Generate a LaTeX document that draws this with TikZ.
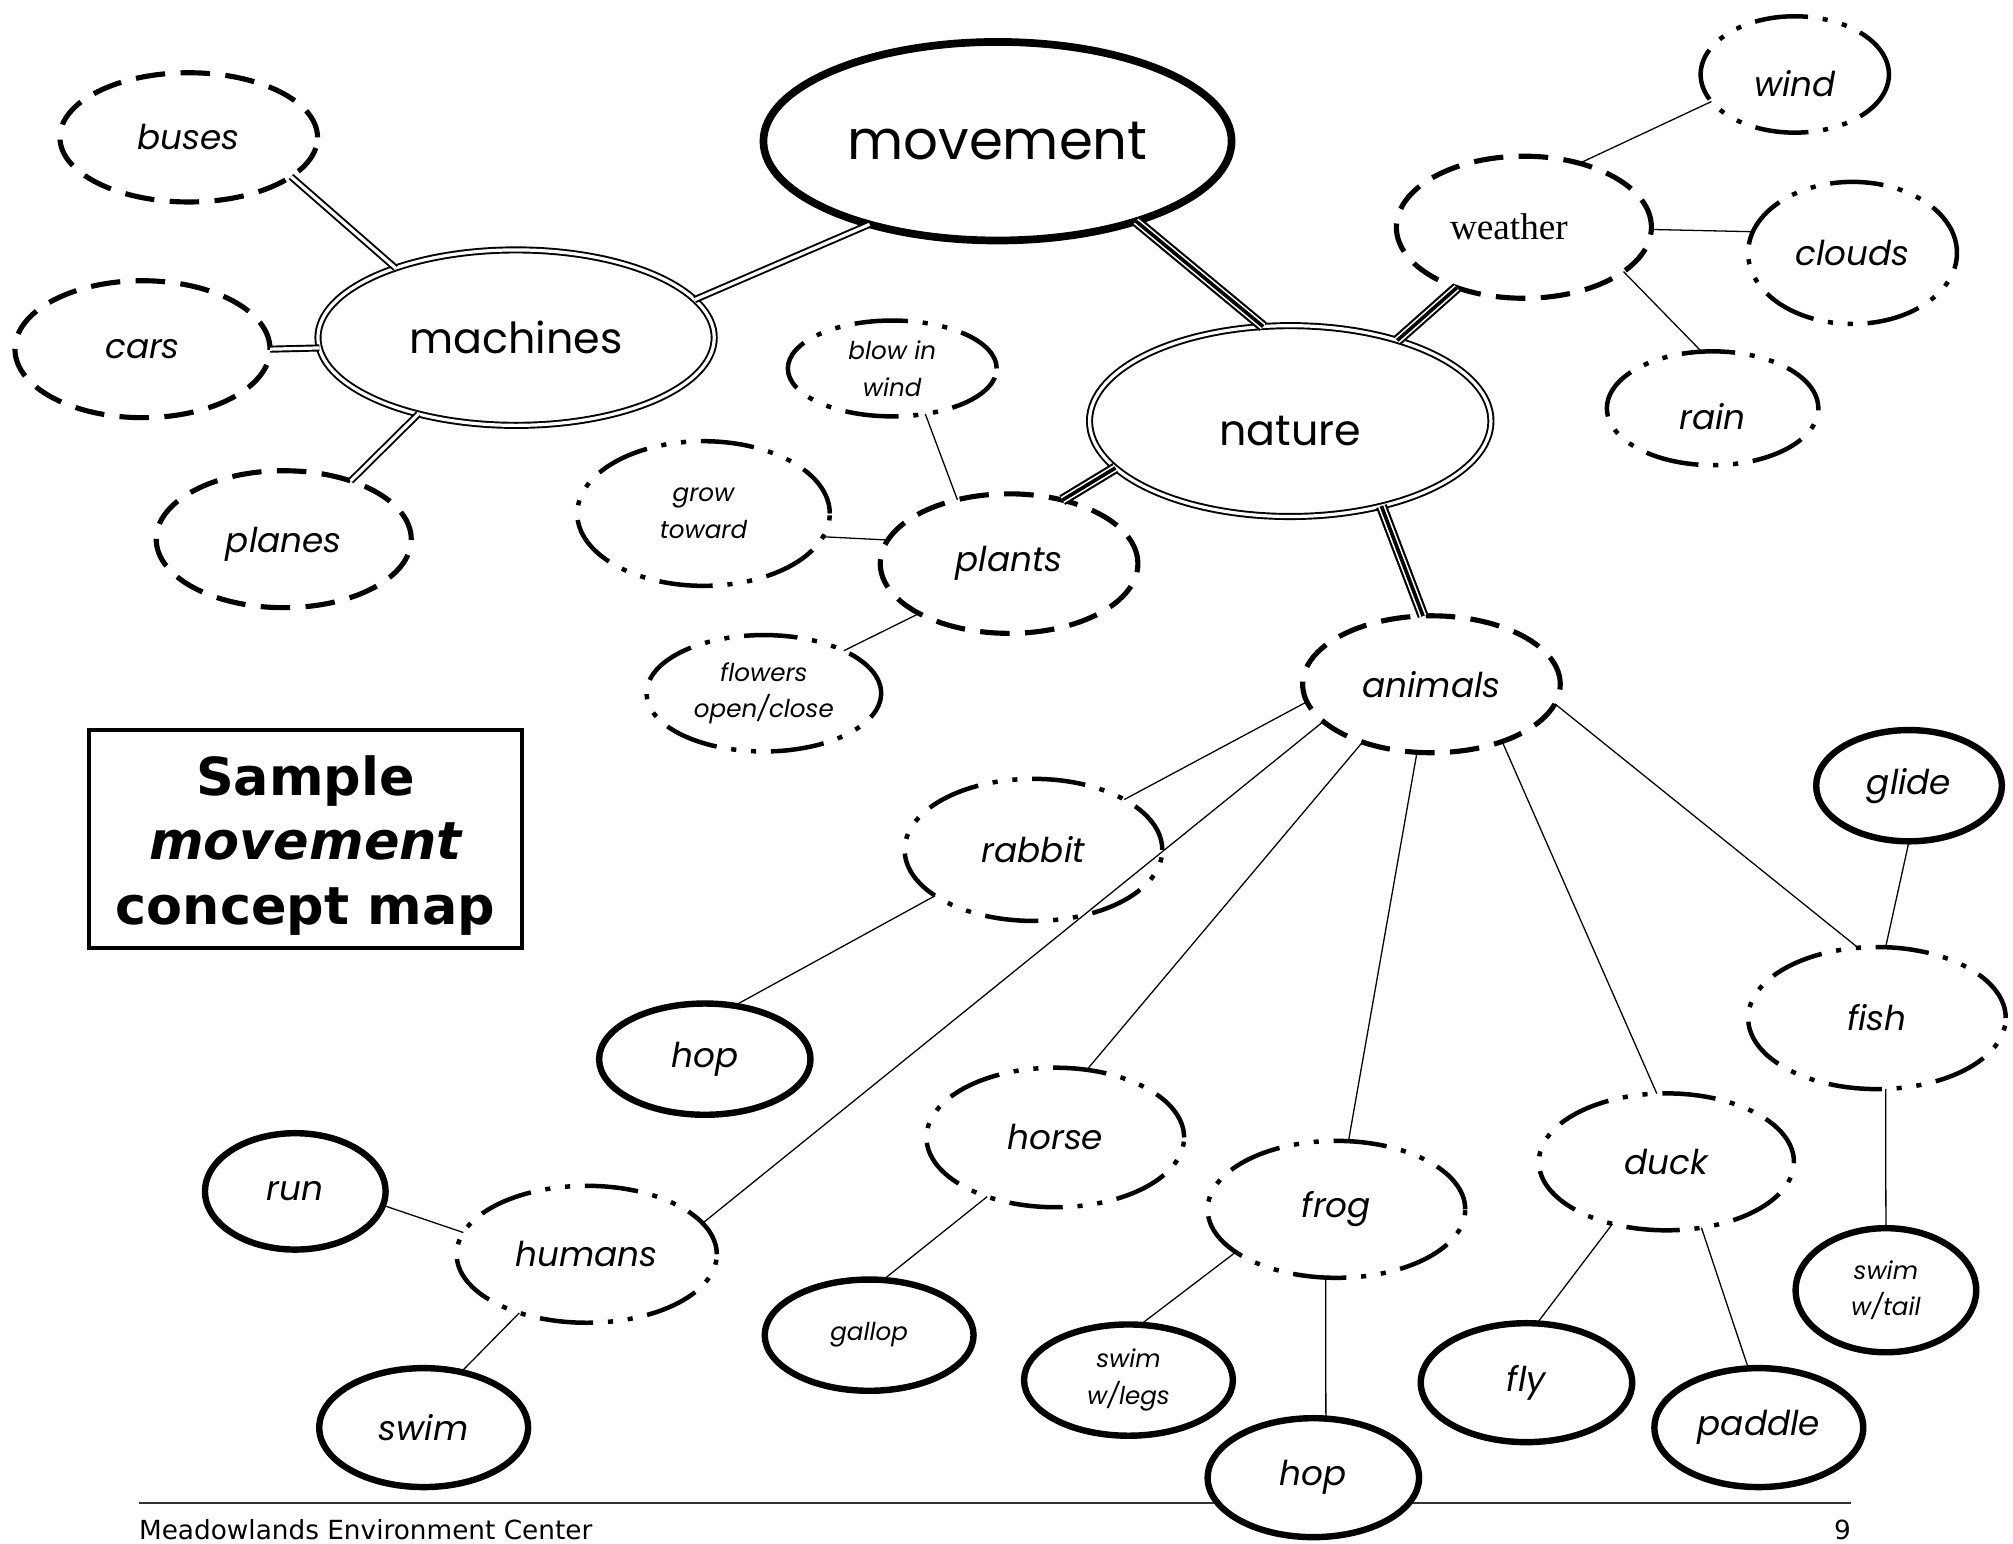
\documentclass[tikz,border=0pt]{standalone}
\usepackage{fontspec}
\setmainfont{Liberation Serif}
\newfontfamily\comic{Poppins}
\newfontfamily\verd{DejaVu Sans}
\newfontfamily\timesf{Liberation Serif}
\usetikzlibrary{shapes.geometric}
\newcommand\downby[2]{\raisebox{0pt}[\dimexpr\height+#1+#1\relax][\depth]{#2}}
\tikzset{
  ell/.style={ellipse, inner sep=0pt, outer sep=0pt, fill=white, align=center},
  dashell/.style={ell, draw, line width=2.4pt, dash pattern=on 13.8pt off 7.2pt},
  dotell/.style={ell, draw, line width=2.1pt, dash pattern=on 25pt off 6.9pt on 2.4pt off 6.9pt on 2.4pt off 6.9pt},
  solidell/.style={ell, draw, line width=3pt},
  dblell/.style={ell, draw, line width=0.9pt, double, double distance=1.5pt},
  bigell/.style={ell, draw, line width=3.6pt},
  conn/.style={line width=0.6pt},
  dbl/.style={line width=0.9pt, double, double distance=1.5pt},
  triple/.style={line width=5.2pt, postaction={draw, white, line width=3.2pt}, postaction={draw, black, line width=1.7pt}},
  bigtxt/.style={font=\comic\fontsize{25.5}{30}\selectfont},
  midtxt/.style={font=\comic\fontsize{20}{24}\selectfont},
  leaftxt/.style={font=\comic\itshape\fontsize{16}{19}\selectfont},
  smalltxt/.style={font=\comic\itshape\fontsize{11.5}{17.2}\selectfont},
}
\begin{document}
\begin{tikzpicture}[x=0.6pt,y=-0.6pt]
\useasboundingbox (0,0) rectangle (1568,1202);
\clip (0,0) rectangle (1568,1202);
% footer
\coordinate (footL) at (108,1171);
\coordinate (footR) at (1442,1171);
\draw[line width=1pt, black!80] (footL) -- (footR);
\node[anchor=base west, inner sep=0pt, font=\verd\fontsize{12.3}{14}\selectfont] (foot) at (108,1199) {Meadowlands Environment Center};
\node[anchor=base east, inner sep=0pt, font=\verd\fontsize{12.3}{14}\selectfont] (pagenum) at (1442,1199) {9};

% title box
\node[draw, line width=1.8pt, minimum width=202.2pt, minimum height=102pt, inner sep=0pt] (titlebox) at (238,653.5) {};
\node[inner sep=0pt, align=center, font=\verd\bfseries\fontsize{24.5}{30}\selectfont] (title) at (238,658.5) {Sample\\\itshape movement\\concept map};

% main nodes
\node[bigell, bigtxt, minimum width=218.8pt, minimum height=92.8pt] (movement) at (777,110) {movement};
\node[dblell, midtxt, minimum width=185.2pt, minimum height=82pt] (machines) at (402,263) {machines};
\node[dblell, midtxt, minimum width=187.6pt, minimum height=89.2pt] (nature) at (1005,328) {\downby{4.8pt}{nature}};

% machines children
\node[dashell, leaftxt, minimum width=120.4pt, minimum height=60.4pt] (buses) at (147,107) {buses};
\node[dashell, leaftxt, minimum width=119.2pt, minimum height=64pt] (cars) at (111,272) {cars};
\node[dashell, leaftxt, minimum width=119.2pt, minimum height=64pt] (planes) at (221,420) {\downby{2.5pt}{planes}};

% plants
\node[dashell, leaftxt, minimum width=120.4pt, minimum height=65.2pt] (plants) at (786,439) {plants};
\node[dotell, smalltxt, minimum width=97.6pt, minimum height=44.8pt] (blow) at (695,287) {blow in\\wind};
\node[dotell, smalltxt, minimum width=118pt, minimum height=67.6pt] (grow) at (548,400) {grow\\toward};
\node[dotell, smalltxt, minimum width=109.6pt, minimum height=54.4pt] (flowers) at (595,540) {flowers\\open/close};

% weather
\node[dashell, font=\timesf\fontsize{17.4}{20}\selectfont, minimum width=119.2pt, minimum height=66.4pt] (weather) at (1187,177) {weather\hspace*{14pt}};
\node[dotell, leaftxt, minimum width=88pt, minimum height=54.4pt] (wind) at (1398,58) {\downby{4.5pt}{wind}};
\node[dotell, leaftxt, minimum width=97.6pt, minimum height=66.4pt] (clouds) at (1443,197) {clouds};
\node[dotell, leaftxt, minimum width=98.8pt, minimum height=53.2pt] (rain) at (1334,318) {\downby{4pt}{rain}};

% animals
\node[dashell, leaftxt, minimum width=120.4pt, minimum height=64pt] (animals) at (1115,533) {animals};
\node[dotell, leaftxt, minimum width=120.4pt, minimum height=66.4pt] (rabbit) at (805,662) {rabbit};
\node[solidell, leaftxt, minimum width=98.8pt, minimum height=52pt] (hopA) at (549,825) {hop};
\node[solidell, leaftxt, minimum width=86.8pt, minimum height=52pt] (glide) at (1487,612) {glide};
\node[dotell, leaftxt, minimum width=120.4pt, minimum height=66.4pt] (fish) at (1462,793) {fish};
\node[solidell, smalltxt, minimum width=84.4pt, minimum height=58pt] (swimtail) at (1469,1005) {swim\\w/tail};
\node[dotell, leaftxt, minimum width=120.4pt, minimum height=65.2pt] (horse) at (822,886) {horse};
\node[dotell, leaftxt, minimum width=120.4pt, minimum height=64pt] (frog) at (1041,942) {frog};
\node[dotell, leaftxt, minimum width=119.2pt, minimum height=64pt] (duck) at (1298,905) {duck};
\node[dotell, leaftxt, minimum width=121.6pt, minimum height=64pt] (humans) at (457,977) {humans};
\node[solidell, leaftxt, minimum width=84.4pt, minimum height=54.4pt] (run) at (230,928) {run};
\node[solidell, leaftxt, minimum width=97.6pt, minimum height=55.6pt] (swim) at (330,1112) {swim};
\node[solidell, smalltxt, minimum width=97.6pt, minimum height=52pt] (gallop) at (677,1040) {gallop};
\node[solidell, smalltxt, minimum width=97.6pt, minimum height=52pt] (swimlegs) at (879,1075) {swim\\w/legs};
\node[solidell, leaftxt, minimum width=98.8pt, minimum height=55.6pt] (hopB) at (1023,1151) {hop};
\node[solidell, leaftxt, minimum width=98.8pt, minimum height=55.6pt] (fly) at (1189,1077) {fly};
\node[solidell, leaftxt, minimum width=97.6pt, minimum height=55.6pt] (paddle) at (1370,1112) {paddle};

% connectors
\draw[dbl] (machines.12) -- (movement.213);
\draw[dbl] (buses.-21.7) -- (machines.150.4);
\draw[dbl] (cars.0.6) -- (machines.183);
\draw[dbl] (planes.41) -- (machines.218.7);
\draw[triple] (movement.-30.7) -- (nature.106.3);
\draw[triple] (nature.37.8) -- (weather.222.5);
\draw[triple] (nature.195.3) -- (plants.50);
\draw[triple] (nature.-43) -- (animals.97);
\draw[conn] (plants.129.4) -- (blow.-54.3);
\draw[conn] (plants.169) -- (grow.-11.3);
\draw[conn] (plants.209.9) -- (flowers.28);
\draw[conn] (weather.49) -- (wind.198.4);
\draw[conn] (weather.-1.7) -- (clouds.168);
\draw[conn] (weather.-24.6) -- (rain.101);
\draw[conn] (animals.188.8) -- (rabbit.29);
\draw[conn] (animals.199.8) -- (humans.15.2);
\draw[conn] (animals.220.7) -- (horse.65);
\draw[conn] (animals.258.7) -- (frog.80);
\draw[conn] (animals.-39.7) -- (duck.98);
\draw[conn] (animals.-9.3) -- (fish.105.8);
\draw[conn] (rabbit.205.1) -- (hopA.61.7);
\draw[conn] (glide.-90) -- (fish.83.5);
\draw[conn] (fish.-83) -- (swimtail.90);
\draw[conn] (horse.221) -- (gallop.76);
\draw[conn] (frog.203.3) -- (swimlegs.78.7);
\draw[conn] (frog.261.7) -- (hopB.78);
\draw[conn] (duck.229) -- (fly.80);
\draw[conn] (duck.-62.6) -- (paddle.100);
\draw[conn] (humans.170.4) -- (run.-9.5);
\draw[conn] (humans.221.6) -- (swim.56.3);
\end{tikzpicture}
\end{document}
